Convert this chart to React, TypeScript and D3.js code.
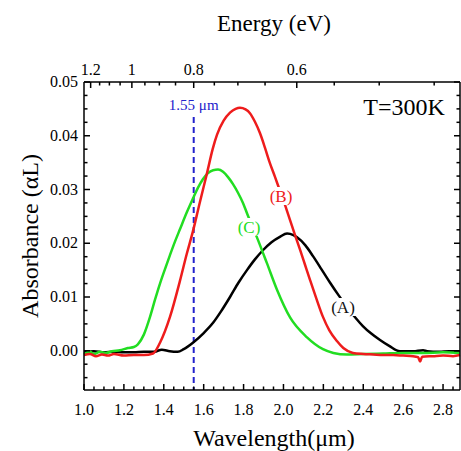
import React from "react";
import * as d3 from "d3";

// ---- data (wavelength µm, absorbance) ----
const lamA = [1.0, 1.05, 1.1, 1.15, 1.2, 1.25, 1.3, 1.35, 1.39, 1.43, 1.47, 1.5, 1.546, 1.6, 1.647, 1.69, 1.732, 1.775, 1.817, 1.857, 1.897, 1.94, 1.982, 2.018, 2.05, 2.068, 2.11, 2.148, 2.19, 2.233, 2.275, 2.318, 2.36, 2.398, 2.44, 2.484, 2.53, 2.584, 2.65, 2.7, 2.72, 2.78, 2.83, 2.885];
const absA = [-0.0002, -0.0001, -0.0003, -0.0002, -0.0003, -0.0003, -0.0002, -0.0002, 0.0002, -0.0001, -0.0002, 0.0003, 0.0015, 0.0033, 0.0052, 0.0075, 0.01, 0.0127, 0.015, 0.017, 0.0187, 0.0202, 0.0212, 0.0218, 0.0215, 0.0211, 0.0196, 0.0176, 0.0152, 0.0127, 0.0104, 0.0082, 0.0062, 0.0046, 0.0032, 0.002, 0.0009, -0.0001, -0.0001, 0.0001, -0.0001, -0.0002, -0.0001, -0.0001];

const lamB = [1.0, 1.03, 1.06, 1.09, 1.12, 1.15, 1.2, 1.25, 1.3, 1.346, 1.381, 1.431, 1.481, 1.515, 1.546, 1.58, 1.617, 1.645, 1.667, 1.7, 1.732, 1.76, 1.782, 1.81, 1.832, 1.857, 1.882, 1.907, 1.932, 1.957, 1.982, 2.008, 2.033, 2.058, 2.083, 2.108, 2.133, 2.165, 2.198, 2.23, 2.268, 2.3, 2.348, 2.4, 2.45, 2.5, 2.55, 2.6, 2.65, 2.675, 2.685, 2.695, 2.75, 2.8, 2.85, 2.885];
const absB = [-0.0008, -0.0006, -0.001, -0.0007, -0.0009, -0.0006, -0.0009, -0.0008, -0.0008, -0.0005, 0.0015, 0.0063, 0.013, 0.018, 0.0222, 0.0275, 0.0331, 0.0375, 0.0402, 0.0428, 0.0443, 0.045, 0.0452, 0.0449, 0.0442, 0.0426, 0.0405, 0.0378, 0.0349, 0.0324, 0.0298, 0.0271, 0.0243, 0.0215, 0.0188, 0.016, 0.0132, 0.0097, 0.0063, 0.0038, 0.0018, 0.0005, -0.0004, -0.0006, -0.0007, -0.0008, -0.0008, -0.0009, -0.001, -0.0012, -0.002, -0.0011, -0.001, -0.0009, -0.001, -0.0008];

const lamC = [1.0, 1.03, 1.05, 1.08, 1.11, 1.14, 1.18, 1.22, 1.25, 1.27, 1.3, 1.331, 1.356, 1.381, 1.406, 1.431, 1.456, 1.481, 1.516, 1.546, 1.571, 1.596, 1.62, 1.647, 1.672, 1.697, 1.722, 1.747, 1.772, 1.797, 1.82, 1.867, 1.917, 1.967, 2.033, 2.118, 2.198, 2.25, 2.318, 2.4, 2.5, 2.6, 2.7, 2.8, 2.885];
const absC = [-0.0006, -0.0002, -0.0006, -0.0002, -0.0004, -0.0001, 0.0001, 0.0005, 0.0007, 0.0012, 0.003, 0.0063, 0.0095, 0.0125, 0.0152, 0.0178, 0.0203, 0.0226, 0.0258, 0.0283, 0.0303, 0.0319, 0.033, 0.0336, 0.0337, 0.0333, 0.0323, 0.031, 0.0294, 0.0275, 0.0253, 0.0211, 0.0163, 0.0114, 0.0062, 0.0025, 0.0003, -0.0004, -0.0007, -0.0006, -0.0005, -0.0004, -0.0004, -0.0003, -0.0004];

const xTicks = [1.0, 1.2, 1.4, 1.6, 1.8, 2.0, 2.2, 2.4, 2.6, 2.8];
const yTicks = [0.0, 0.01, 0.02, 0.03, 0.04, 0.05];
const eTicks = [1.2, 1.0, 0.8, 0.6];
const eTickLabels = ["1.2", "1", "0.8", "0.6"];
const eMinor = [1.15, 1.1, 1.05, 0.95, 0.9, 0.85, 0.75, 0.7, 0.65, 0.55, 0.5, 0.45];
const markerLambda = 1.55;

const W = 461, H = 451;
const L = 84, T = 82, R = 460, B = 390;
const FONT = "Liberation Serif";

export default function App() {
  const x = d3.scaleLinear().domain([1.0, 2.885]).range([L, R]);
  const y = d3.scaleLinear().domain([-0.0073, 0.05]).range([B, T]);
  const line = d3.line<[number, number]>().x(d => x(d[0])).y(d => y(d[1])).curve(d3.curveMonotoneX);
  const mk = (lx: number[], ly: number[]) => lx.map((v, i) => [v, ly[i]] as [number, number]);

  const xMinor = d3.range(1.0, 2.886, 0.05).filter(v => Math.abs(Math.round(v / 0.2) * 0.2 - v) > 1e-6);
  const yMinor = d3.range(-0.005, 0.05, 0.0025).filter(v => Math.abs(Math.round(v / 0.01) * 0.01 - v) > 1e-7);
  const ex = (e: number) => x(1.24 / e);

  const major = 6, minor = 3.5;
  const ax = { stroke: "#000", strokeWidth: 1.5 };

  const labels = [
    { t: "(B)", cx: 281, cy: 196, c: "#ee1c1c" },
    { t: "(C)", cx: 249, cy: 227, c: "#22dd22" },
    { t: "(A)", cx: 343, cy: 307, c: "#111" },
  ];

  return (
    <svg width={W} height={H} style={{ position: "absolute", left: 0, top: 0, background: "#fff" }} fontFamily={FONT}>
      <rect x={0} y={0} width={W} height={H} fill="#fff" />
      {/* marker line */}
      <line x1={x(markerLambda)} x2={x(markerLambda)} y1={117} y2={B} stroke="#2222cc" strokeWidth={2} strokeDasharray="6,4" />
      <text x={x(markerLambda)} y={110} textAnchor="middle" fontSize={15} fill="#2222cc">1.55 μm</text>

      {/* curves */}
      <path d={line(mk(lamA, absA)) || ""} fill="none" stroke="#000" strokeWidth={2.5} />
      <path d={line(mk(lamC, absC)) || ""} fill="none" stroke="#22dd22" strokeWidth={2.5} />
      <path d={line(mk(lamB, absB)) || ""} fill="none" stroke="#ee1c1c" strokeWidth={2.5} />

      {labels.map(l => (
        <g key={l.t}>
          <rect x={l.cx - 13} y={l.cy - 9} width={26} height={18} fill="#fff" />
          <text x={l.cx} y={l.cy + 6} textAnchor="middle" fontSize={17} fill={l.c}>{l.t}</text>
        </g>
      ))}

      {/* frame */}
      <line x1={L} x2={L} y1={T} y2={B} {...ax} />
      <line x1={R} x2={R} y1={T} y2={B} {...ax} />
      <line x1={L} x2={R} y1={B} y2={B} {...ax} />
      <line x1={L} x2={R} y1={T} y2={T} {...ax} />

      {/* bottom axis */}
      {xTicks.map(v => (
        <g key={"xb" + v}>
          <line x1={x(v)} x2={x(v)} y1={B} y2={B - major} {...ax} />
          <text x={x(v)} y={415} textAnchor="middle" fontSize={16}>{v.toFixed(1)}</text>
        </g>
      ))}
      {xMinor.map(v => <line key={"xm" + v} x1={x(v)} x2={x(v)} y1={B} y2={B - minor} {...ax} />)}

      {/* left & right axis */}
      {yTicks.map(v => (
        <g key={"yl" + v}>
          <line x1={L} x2={L + major} y1={y(v)} y2={y(v)} {...ax} />
          <line x1={R} x2={R - major} y1={y(v)} y2={y(v)} {...ax} />
          <text x={78} y={y(v) + 5} textAnchor="end" fontSize={16}>{v.toFixed(2)}</text>
        </g>
      ))}
      {yMinor.map(v => (
        <g key={"ym" + v}>
          <line x1={L} x2={L + minor} y1={y(v)} y2={y(v)} {...ax} />
          <line x1={R} x2={R - minor} y1={y(v)} y2={y(v)} {...ax} />
        </g>
      ))}

      {/* top energy axis */}
      {eTicks.map((e, i) => (
        <g key={"et" + e}>
          <line x1={ex(e)} x2={ex(e)} y1={T} y2={T + major} {...ax} />
          <text x={ex(e)} y={75} textAnchor="middle" fontSize={16}>{eTickLabels[i]}</text>
        </g>
      ))}
      {eMinor.map(e => <line key={"em" + e} x1={ex(e)} x2={ex(e)} y1={T} y2={T + minor} {...ax} />)}

      {/* titles */}
      <text x={274} y={31} textAnchor="middle" fontSize={23}>Energy (eV)</text>
      <text x={274} y={446} textAnchor="middle" fontSize={24}>Wavelength(μm)</text>
      <text transform={`translate(38,${(T + B) / 2}) rotate(-90)`} textAnchor="middle" fontSize={24}>Absorbance (αL)</text>
      <text x={404} y={115} textAnchor="middle" fontSize={24}>T=300K</text>
    </svg>
  );
}
